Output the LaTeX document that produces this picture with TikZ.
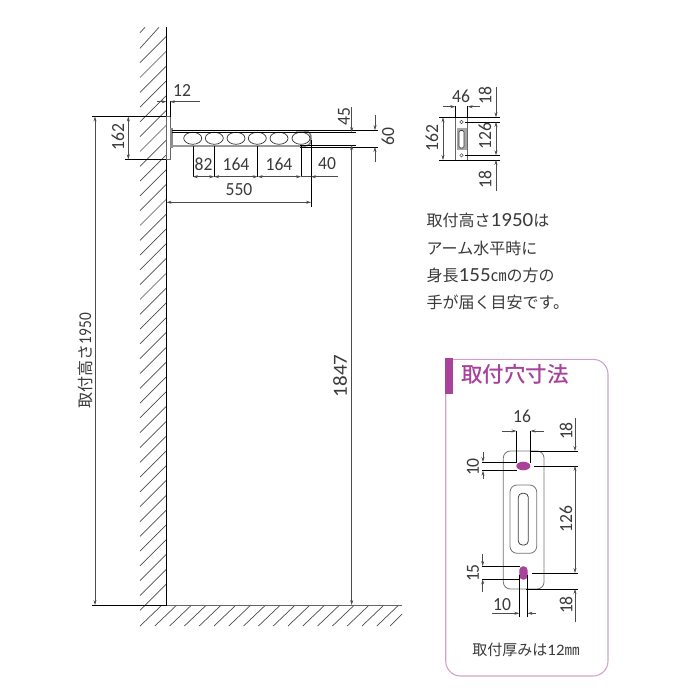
\documentclass[tikz,border=0pt]{standalone}
\usepackage{fontspec}
\usetikzlibrary{arrows.meta}
\setmainfont{Carlito}
\newfontfamily\jpfont{Noto Sans CJK JP}
\newfontfamily\jpbold{Noto Sans CJK JP Medium}
\newfontfamily\numfont[FakeStretch=0.95]{Carlito}
\newfontfamily\narrowfont[FakeStretch=0.85]{Carlito}
\newfontfamily\notefont[FakeStretch=1.05]{Carlito}
\definecolor{inktext}{HTML}{3A3A3A}
\definecolor{holecolor}{HTML}{A8429A}
\definecolor{boxcolor}{HTML}{CFA3C9}
\tikzset{
  num/.style={inner sep=0pt,text=inktext,font=\fontsize{18.5}{18.5}\selectfont\numfont},
  numup/.style={num,rotate=90},
  jp/.style={inner sep=0pt,text=inktext,font=\fontsize{16}{16}\selectfont\jpfont,anchor=west},
  wall/.style={black,line width=1pt},
  hatch/.style={black!70,line width=.7pt},
  extline/.style={black,line width=.65pt},
  dimline/.style={black!70,line width=.6pt},
  dimboth/.style={dimline,{Stealth[length=5pt,width=3pt]}-{Stealth[length=5pt,width=3pt]}},
  dimto/.style={dimline,-{Stealth[length=5pt,width=3pt]}},
  outline/.style={black!60,line width=.7pt}
}
\begin{document}
\begin{tikzpicture}[x=1pt,y=-1pt]
  \useasboundingbox (0,0) rectangle (700,700);

  % wall and floor
  \draw [hatch] (140,32.7) -- (145,27.3);
  \draw [hatch] (140,48.3) -- (159,27.3);
  \foreach \y in {62.7,77.5,...,611}
    \draw [hatch] (140,\y) -- (166,\y-26);
  \foreach \x in {140,154.8,...,380}
    \draw [hatch] (\x,626) -- (\x+22,605);
  \draw [hatch] (390,626) -- (402,614);
  \draw [wall] (166.5,27) -- (166.5,606);
  \draw [black!60,line width=.8pt] (166.5,605.3) -- (402,605.3);

  % arm
  \draw [outline,fill=white] (166.5,116.7) rectangle (170,159.2);
  \fill [black!45] (170,128.5) rectangle (172.5,148);
  \fill [black!40] (172,144.8) rectangle (306,147.5);
  \draw [black!50,line width=1.5pt] (296,131) -- (304,131) .. controls (310,131) and (311,134) .. (311,138.5) .. controls (311,143) and (310,146) .. (304,146);
  \foreach \x in {192.7,214.3,236,257.3,279,301}
    \draw [black!80,line width=.7pt,fill=white] (\x,138.3) ellipse (9 and 6);

  % extension lines of the arm
  \draw [extline] (92,116.5) -- (166,116.5);
  \draw [extline] (125,159.3) -- (166,159.3);
  \draw [extline] (92,605) -- (166,605);
  \draw [extline] (170,101) -- (170,116.7);
  \draw [extline] (172,130.2) -- (378,130.2);
  \draw [extline] (172,132.2) -- (356,132.2);
  \draw [extline] (300,145) -- (356,145);
  \draw [extline] (300,147) -- (378,147);
  \foreach \x in {192.9,214.2,257.7,301}
    \draw [extline] (\x,146) -- (\x,177);
  \draw [extline] (311,140) -- (311,207);

  % dimensions of the arm
  \draw [dimto] (157,101.7) -- (166.5,101.7);
  \draw [dimto] (200,101.7) -- (170,101.7);
  \draw [dimboth] (128.3,116.5) -- (128.3,159.3);
  \draw [dimboth] (95,116.5) -- (95,605);
  \draw [dimboth] (192.9,176.7) -- (214.2,176.7);
  \draw [dimboth] (214.2,176.7) -- (257.7,176.7);
  \draw [dimboth] (257.7,176.7) -- (301,176.7);
  \draw [dimline] (301,176.7) -- (311,176.7);
  \draw [dimto] (338,176.7) -- (311,176.7);
  \draw [dimboth] (166.5,202.3) -- (311,202.3);
  \draw [dimto] (351.7,107) -- (351.7,132.2);
  \draw [dimboth] (351.7,145) -- (351.7,605);
  \draw [dimto] (375,115) -- (375,130.2);
  \draw [dimto] (375,162) -- (375,147);

  \node [num] (armtwelve) at (182,91) {12};
  \node [numup] (armheight) at (118,137) {162};
  \node [num] (pitcha) at (203.5,164) {82};
  \node [num] (pitchb) at (236,164) {164};
  \node [num] (pitchc) at (279,164) {164};
  \node [num] (pitchd) at (327,164) {40};
  \node [num] (armlength) at (239,190) {550};
  \node [numup] (barinner) at (344,117) {45};
  \node [numup] (barouter) at (388,137) {60};
  \node [numup,font=\fontsize{20}{20}\selectfont\notefont] (clearance) at (340,376) {1847};
  \node [numup,font=\fontsize{16}{16}\selectfont\jpfont] (mountheight) at (85,360.5) {取付高さ{\narrowfont\fontsize{18}{18}\selectfont 1950}};

  % small bracket
  \draw [outline] (455.3,117.3) rectangle (467.7,160);
  \fill [black!35] (456.5,128) rectangle (466.5,150);
  \draw [black!80,fill=white,rounded corners=1.5pt,line width=.6pt] (459,130.5) rectangle (464,148);
  \draw [black!70,line width=.5pt] (461.5,122) circle (1.7);
  \draw [black!70,line width=.5pt] (461.5,155.3) circle (1.7);
  \draw [extline] (455.3,106) -- (455.3,117.3);
  \draw [extline] (467.7,106) -- (467.7,117.3);
  \draw [extline] (439,117.3) -- (500,117.3);
  \draw [extline] (439,160) -- (500,160);
  \draw [extline] (465,122) -- (500,122);
  \draw [extline] (465,155.3) -- (500,155.3);
  \draw [dimto] (442.7,106.7) -- (455.3,106.7);
  \draw [dimto] (480,106.7) -- (467.7,106.7);
  \draw [dimboth] (443,117.3) -- (443,160);
  \draw [dimto] (496,87) -- (496,117.3);
  \draw [dimboth] (496,122) -- (496,155.3);
  \draw [dimto] (496,190.7) -- (496,160);
  \node [num] (bracketwidth) at (461,96) {46};
  \node [numup] (bracketheight) at (432,138) {162};
  \node [numup] (brackettop) at (485,96) {18};
  \node [numup] (bracketpitch) at (485,136) {126};
  \node [numup] (bracketbottom) at (485,180) {18};

  % note
  \node [jp] (notea) at (426.5,220) {取付高さ{\notefont\fontsize{20}{20}\selectfont 1950}は};
  \node [jp] (noteb) at (426.5,248) {アーム水平時に};
  \node [jp] (notec) at (426.5,275) {身長{\notefont\fontsize{20}{20}\selectfont 155}㎝の方の};
  \node [jp] (noted) at (426.5,302) {手が届く目安です。};

  % box with the hole sizes
  \draw [boxcolor,line width=1.1pt] (445.7,359.3) -- (470,359.3) [rounded corners=15pt] -- (608,359.3) -- (608,676) -- (445.7,676) -- (445.7,400) [sharp corners] -- cycle;
  \fill [holecolor] (444.7,358) rectangle (452.7,394);
  \node [inner sep=0pt,text=holecolor,font=\fontsize{21.5}{21.5}\selectfont\jpbold] (boxtitle) at (515,374) {取付穴寸法};

  % plate
  \draw [black!55,line width=.8pt,rounded corners=7pt] (503.3,451) rectangle (544,589);
  \draw [black!55,line width=.8pt,rounded corners=7pt] (510,485) rectangle (536.7,553.3);
  \draw [black!75,line width=.8pt,rounded corners=4pt] (518.3,493.3) rectangle (528.3,545);
  \fill [holecolor] (523.3,466) ellipse (7 and 4.3);
  \draw [holecolor,line width=.01pt,fill=holecolor,rounded corners=4pt] (519.3,566.3) rectangle (527.5,579.7);

  \draw [extline] (516.5,431) -- (516.5,463);
  \draw [extline] (530.5,431) -- (530.5,463);
  \draw [extline] (530,451) -- (578,451);
  \draw [extline] (534,466) -- (578,466);
  \draw [extline] (532,573) -- (578,573);
  \draw [extline] (526,589) -- (578,589);
  \draw [extline] (482,462) -- (517,462);
  \draw [extline] (482,470.7) -- (517,470.7);
  \draw [extline] (482,566) -- (520,566);
  \draw [extline] (482,579.3) -- (520,579.3);
  \draw [extline] (519.3,575) -- (519.3,617);
  \draw [extline] (527.5,575) -- (527.5,617);

  \draw [dimto] (502,431) -- (516.5,431);
  \draw [dimto] (544,431) -- (530.5,431);
  \draw [dimto] (575,418) -- (575,451);
  \draw [dimboth] (575,466) -- (575,573);
  \draw [dimto] (575,622) -- (575,589);
  \draw [dimto] (483,452) -- (483,462);
  \draw [dimto] (483,479) -- (483,470.7);
  \draw [dimto] (482.7,554) -- (482.7,566);
  \draw [dimto] (482.7,592) -- (482.7,579.3);
  \draw [dimto] (492,613.3) -- (519.3,613.3);
  \draw [dimto] (535.7,613.3) -- (527.5,613.3);

  \node [num] (holewidth) at (522,416) {16};
  \node [numup] (holetop) at (566,431) {18};
  \node [numup] (holepitch) at (566,519) {126};
  \node [numup] (holebottom) at (566,605) {18};
  \node [numup] (holeheight) at (473,467) {10};
  \node [numup] (slotheight) at (473,573) {15};
  \node [num] (slotwidth) at (502,605) {10};
  \node [inner sep=0pt,text=inktext,font=\fontsize{15}{15}\selectfont\jpfont] (thickness) at (526,650) {取付厚みは{\notefont\fontsize{16}{16}\selectfont 12}㎜};
\end{tikzpicture}
\end{document}
